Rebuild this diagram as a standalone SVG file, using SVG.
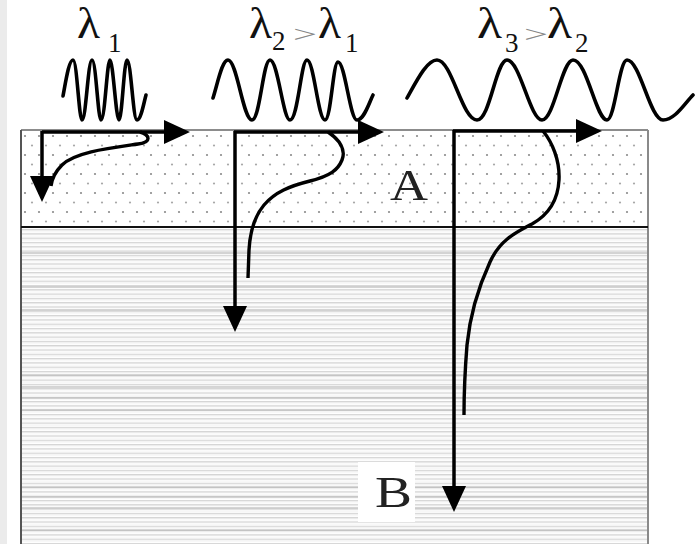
<svg xmlns="http://www.w3.org/2000/svg" width="695" height="544" viewBox="0 0 695 544">
  <style>
    .lam { font-family: "Liberation Serif", "DejaVu Serif", serif; font-size: 44px; fill: #111; }
    .sub { font-family: "Liberation Serif", "DejaVu Serif", serif; font-size: 27px; fill: #111; }
    .gt { font-family: "Liberation Serif", "DejaVu Serif", serif; font-size: 24px; fill: #888; }
    .big { font-family: "Liberation Serif", "DejaVu Serif", serif; font-size: 44px; fill: #222; }
    .wave { fill: none; stroke: #000; stroke-width: 3.6; stroke-linejoin: round; stroke-linecap: round; }
    .arr { fill: none; stroke: #000; stroke-width: 3.5; marker-end: url(#head); }
    .curve { fill: none; stroke: #000; stroke-width: 3.4; stroke-linecap: butt; }
    .dark { stroke: #b0b0b0; stroke-width: 1.2; }
  </style>
  <defs>
    <marker id="head" markerUnits="userSpaceOnUse" markerWidth="28" markerHeight="26" refX="14" refY="12" orient="auto">
      <path d="M0,0 L26,12 L0,24 z" fill="#000"/>
    </marker>
    <pattern id="dots" patternUnits="userSpaceOnUse" width="14" height="19" x="21" y="132">
      <circle cx="4" cy="4" r="1.1" fill="#8a8a8a"/>
      <circle cx="11" cy="13.5" r="1.1" fill="#a8a8a8"/>
    </pattern>
    <pattern id="lines" patternUnits="userSpaceOnUse" width="20" height="4.3" x="0" y="229">
      <rect x="0" y="0" width="20" height="4.3" fill="#ffffff"/>
      <rect x="0" y="0" width="20" height="1.3" fill="#d4d4d4"/>
      <rect x="0" y="2.4" width="20" height="0.6" fill="#f0f0f0"/>
    </pattern>
  </defs>

  <rect x="0" y="0" width="695" height="544" fill="#ffffff"/>
  <rect x="0" y="0" width="7" height="544" fill="#ebebeb"/>

  <g id="layerA">
    <rect x="21" y="130" width="627" height="97" fill="#ffffff"/>
    <rect x="21" y="130" width="627" height="97" fill="url(#dots)"/>
    <text class="big" x="390" y="200" textLength="38" lengthAdjust="spacingAndGlyphs">A</text>
  </g>

  <g id="layerB">
    <rect x="21" y="227" width="627" height="320" fill="url(#lines)"/>
    <g class="dark">
      <line x1="21" y1="253" x2="648" y2="253"/>
      <line x1="21" y1="287" x2="648" y2="287"/>
      <line x1="21" y1="310" x2="648" y2="310"/>
      <line x1="21" y1="375" x2="648" y2="375"/>
      <line x1="21" y1="387" x2="648" y2="387"/>
      <line x1="21" y1="398" x2="648" y2="398"/>
      <line x1="21" y1="410" x2="648" y2="410"/>
      <line x1="21" y1="487" x2="648" y2="487"/>
      <line x1="21" y1="497" x2="648" y2="497"/>
      <line x1="21" y1="508" x2="648" y2="508"/>
      <line x1="21" y1="530" x2="648" y2="530"/>
    </g>
    <rect x="358" y="462" width="57" height="60" fill="#ffffff"/>
    <text class="big" x="375" y="507" textLength="37" lengthAdjust="spacingAndGlyphs">B</text>
  </g>

  <g id="frame">
    <line x1="21" y1="130" x2="648" y2="130" stroke="#666" stroke-width="1.5"/>
    <line x1="21" y1="130" x2="21" y2="544" stroke="#555" stroke-width="2"/>
    <line x1="648" y1="130" x2="648" y2="544" stroke="#8a8a8a" stroke-width="2"/>
    <line x1="21" y1="227" x2="648" y2="227" stroke="#111" stroke-width="2"/>
  </g>

  <g id="wave1">
    <path class="wave" stroke-width="5" d="M63,96 C66,80 69,60 73,60 C77,60 79,120 82,120 C86,120 88,60 92,60 C96,60 98,120 101,120 C105,120 107,60 110,60 C113,60 116,120 119,120 C122,120 124,60 127,60 C131,60 133,120 137,120 C141,120 144,102 146,95"/>
    <text class="lam" x="77" y="38" textLength="23" lengthAdjust="spacingAndGlyphs">λ</text>
    <text class="sub" x="108" y="52">1</text>
  </g>

  <g id="wave2">
    <path class="wave" d="M213,98 C218,82 222,60 228,60 C237,60 243,120 252,120 C260,120 263,60 270,60 C278,60 283,120 290,120 C298,120 301,60 307,60 C314,60 318,120 325,120 C331,120 333,62 338,62 C345,62 350,120 357,120 C364,120 369,103 373,95"/>
    <text class="lam" x="249" y="38" textLength="23" lengthAdjust="spacingAndGlyphs">λ</text>
    <text class="sub" x="272" y="50">2</text>
    <text class="gt" x="293" y="42" textLength="24" lengthAdjust="spacingAndGlyphs">&gt;</text>
    <text class="lam" x="318" y="38" textLength="23" lengthAdjust="spacingAndGlyphs">λ</text>
    <text class="sub" x="345" y="52">1</text>
  </g>

  <g id="wave3">
    <path class="wave" d="M407,98 C417,80 427,60 437,60 C452,60 462,120 477,120 C490,120 496,60 507,60 C520,60 530,120 542,120 C554,120 562,60 573,60 C587,60 596,120 607,120 C615,120 619,60 627,60 C640,60 650,120 663,120 C675,120 685,103 693,95"/>
    <text class="lam" x="477" y="38" textLength="25" lengthAdjust="spacingAndGlyphs">λ</text>
    <text class="sub" x="505" y="52">3</text>
    <text class="gt" x="524" y="42" textLength="24" lengthAdjust="spacingAndGlyphs">&gt;</text>
    <text class="lam" x="547" y="38" textLength="25" lengthAdjust="spacingAndGlyphs">λ</text>
    <text class="sub" x="575" y="52">2</text>
  </g>

  <g id="connectors">
    <line class="arr" x1="42" y1="132" x2="178" y2="132"/>
    <line class="arr" x1="42" y1="131" x2="42" y2="190"/>
    <path class="curve" d="M140,132 C150,135 152,142 138,144 C110,148 75,152 62,165 C55,172 52,178 51,186"/>

    <line class="arr" x1="234" y1="132" x2="372" y2="132"/>
    <line class="arr" x1="235" y1="131" x2="235" y2="320"/>
    <path class="curve" d="M328,132 C340,140 346,150 342,160 C338,170 330,176 310,181 C290,186 275,192 264,205 C254,217 250,232 249,250 L248,278"/>

    <line class="arr" x1="453" y1="131" x2="590" y2="131"/>
    <line class="arr" x1="454" y1="130" x2="454" y2="500"/>
    <path class="curve" d="M543,131 C552,142 560,160 559,180 C558,200 548,215 532,224 C515,233 500,240 490,262 C478,288 470,315 467,345 C465,370 464,395 464,415"/>
  </g>
</svg>
